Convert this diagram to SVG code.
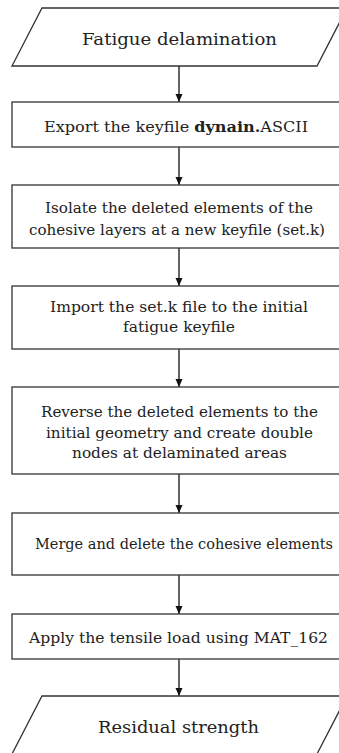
<svg xmlns="http://www.w3.org/2000/svg" width="339" height="753" viewBox="0 0 339 753">
  <style>
    .shape { fill: #ffffff; stroke: #333333; stroke-width: 1.3; }
    .link { stroke: #111111; stroke-width: 1.3; fill: none; marker-end: url(#arrow); }
    .lbl { font-family: "DejaVu Serif", "Liberation Serif", serif; font-size: 14px; fill: #222222; text-anchor: middle; }
    .io { font-family: "DejaVu Serif", "Liberation Serif", serif; font-size: 17px; fill: #222222; text-anchor: middle; }
    .b { font-weight: bold; }
  </style>
  <defs>
    <marker id="arrow" viewBox="0 0 8 10" refX="8" refY="5" markerWidth="8" markerHeight="10" markerUnits="userSpaceOnUse" orient="auto">
      <path d="M0,1.5 L8,5 L0,8.5 Z" fill="#111111"/>
    </marker>
  </defs>
  <rect width="339" height="753" fill="#ffffff"/>

  <g id="connectors">
    <line class="link" x1="179" y1="66" x2="179" y2="102"/>
    <line class="link" x1="179" y1="147" x2="179" y2="185"/>
    <line class="link" x1="179" y1="248" x2="179" y2="286"/>
    <line class="link" x1="179" y1="349" x2="179" y2="387"/>
    <line class="link" x1="179" y1="474" x2="179" y2="513"/>
    <line class="link" x1="179" y1="575" x2="179" y2="614"/>
    <line class="link" x1="179" y1="659" x2="179" y2="696"/>
  </g>

  <g id="fatigue-delamination">
    <polygon class="shape" points="42,8 347,8 317,66 12,66"/>
    <text class="io" x="179.5" y="45" textLength="195" lengthAdjust="spacingAndGlyphs">Fatigue delamination</text>
  </g>

  <g id="export-keyfile">
    <rect class="shape" x="12" y="102" width="334" height="45"/>
    <text class="lbl" x="176" y="131.5" textLength="264" lengthAdjust="spacingAndGlyphs">Export the keyfile <tspan class="b">dynain.</tspan>ASCII</text>
  </g>

  <g id="isolate-elements">
    <rect class="shape" x="12" y="185" width="334" height="63"/>
    <text class="lbl" x="179" y="213" textLength="268" lengthAdjust="spacingAndGlyphs">Isolate the deleted elements of the</text>
    <text class="lbl" x="177" y="235" textLength="296" lengthAdjust="spacingAndGlyphs">cohesive layers at a new keyfile (set.k)</text>
  </g>

  <g id="import-setk">
    <rect class="shape" x="12" y="286" width="334" height="63"/>
    <text class="lbl" x="179" y="311.5" textLength="258" lengthAdjust="spacingAndGlyphs">Import the set.k file to the initial</text>
    <text class="lbl" x="179" y="332" textLength="112" lengthAdjust="spacingAndGlyphs">fatigue keyfile</text>
  </g>

  <g id="reverse-elements">
    <rect class="shape" x="12" y="387" width="334" height="87"/>
    <text class="lbl" x="179.5" y="416.5" textLength="277" lengthAdjust="spacingAndGlyphs">Reverse the deleted elements to the</text>
    <text class="lbl" x="179.5" y="437.5" textLength="267" lengthAdjust="spacingAndGlyphs">initial geometry and create double</text>
    <text class="lbl" x="179.5" y="458" textLength="215" lengthAdjust="spacingAndGlyphs">nodes at delaminated areas</text>
  </g>

  <g id="merge-delete">
    <rect class="shape" x="12" y="513" width="334" height="62"/>
    <text class="lbl" x="184" y="549" textLength="298" lengthAdjust="spacingAndGlyphs">Merge and delete the cohesive elements</text>
  </g>

  <g id="apply-load">
    <rect class="shape" x="12" y="614" width="334" height="45"/>
    <text class="lbl" x="178.5" y="643" textLength="299" lengthAdjust="spacingAndGlyphs">Apply the tensile load using MAT_162</text>
  </g>

  <g id="residual-strength">
    <polygon class="shape" points="42,696 347,696 317,754 12,754"/>
    <text class="io" x="178.5" y="733" textLength="161" lengthAdjust="spacingAndGlyphs">Residual strength</text>
  </g>
</svg>
